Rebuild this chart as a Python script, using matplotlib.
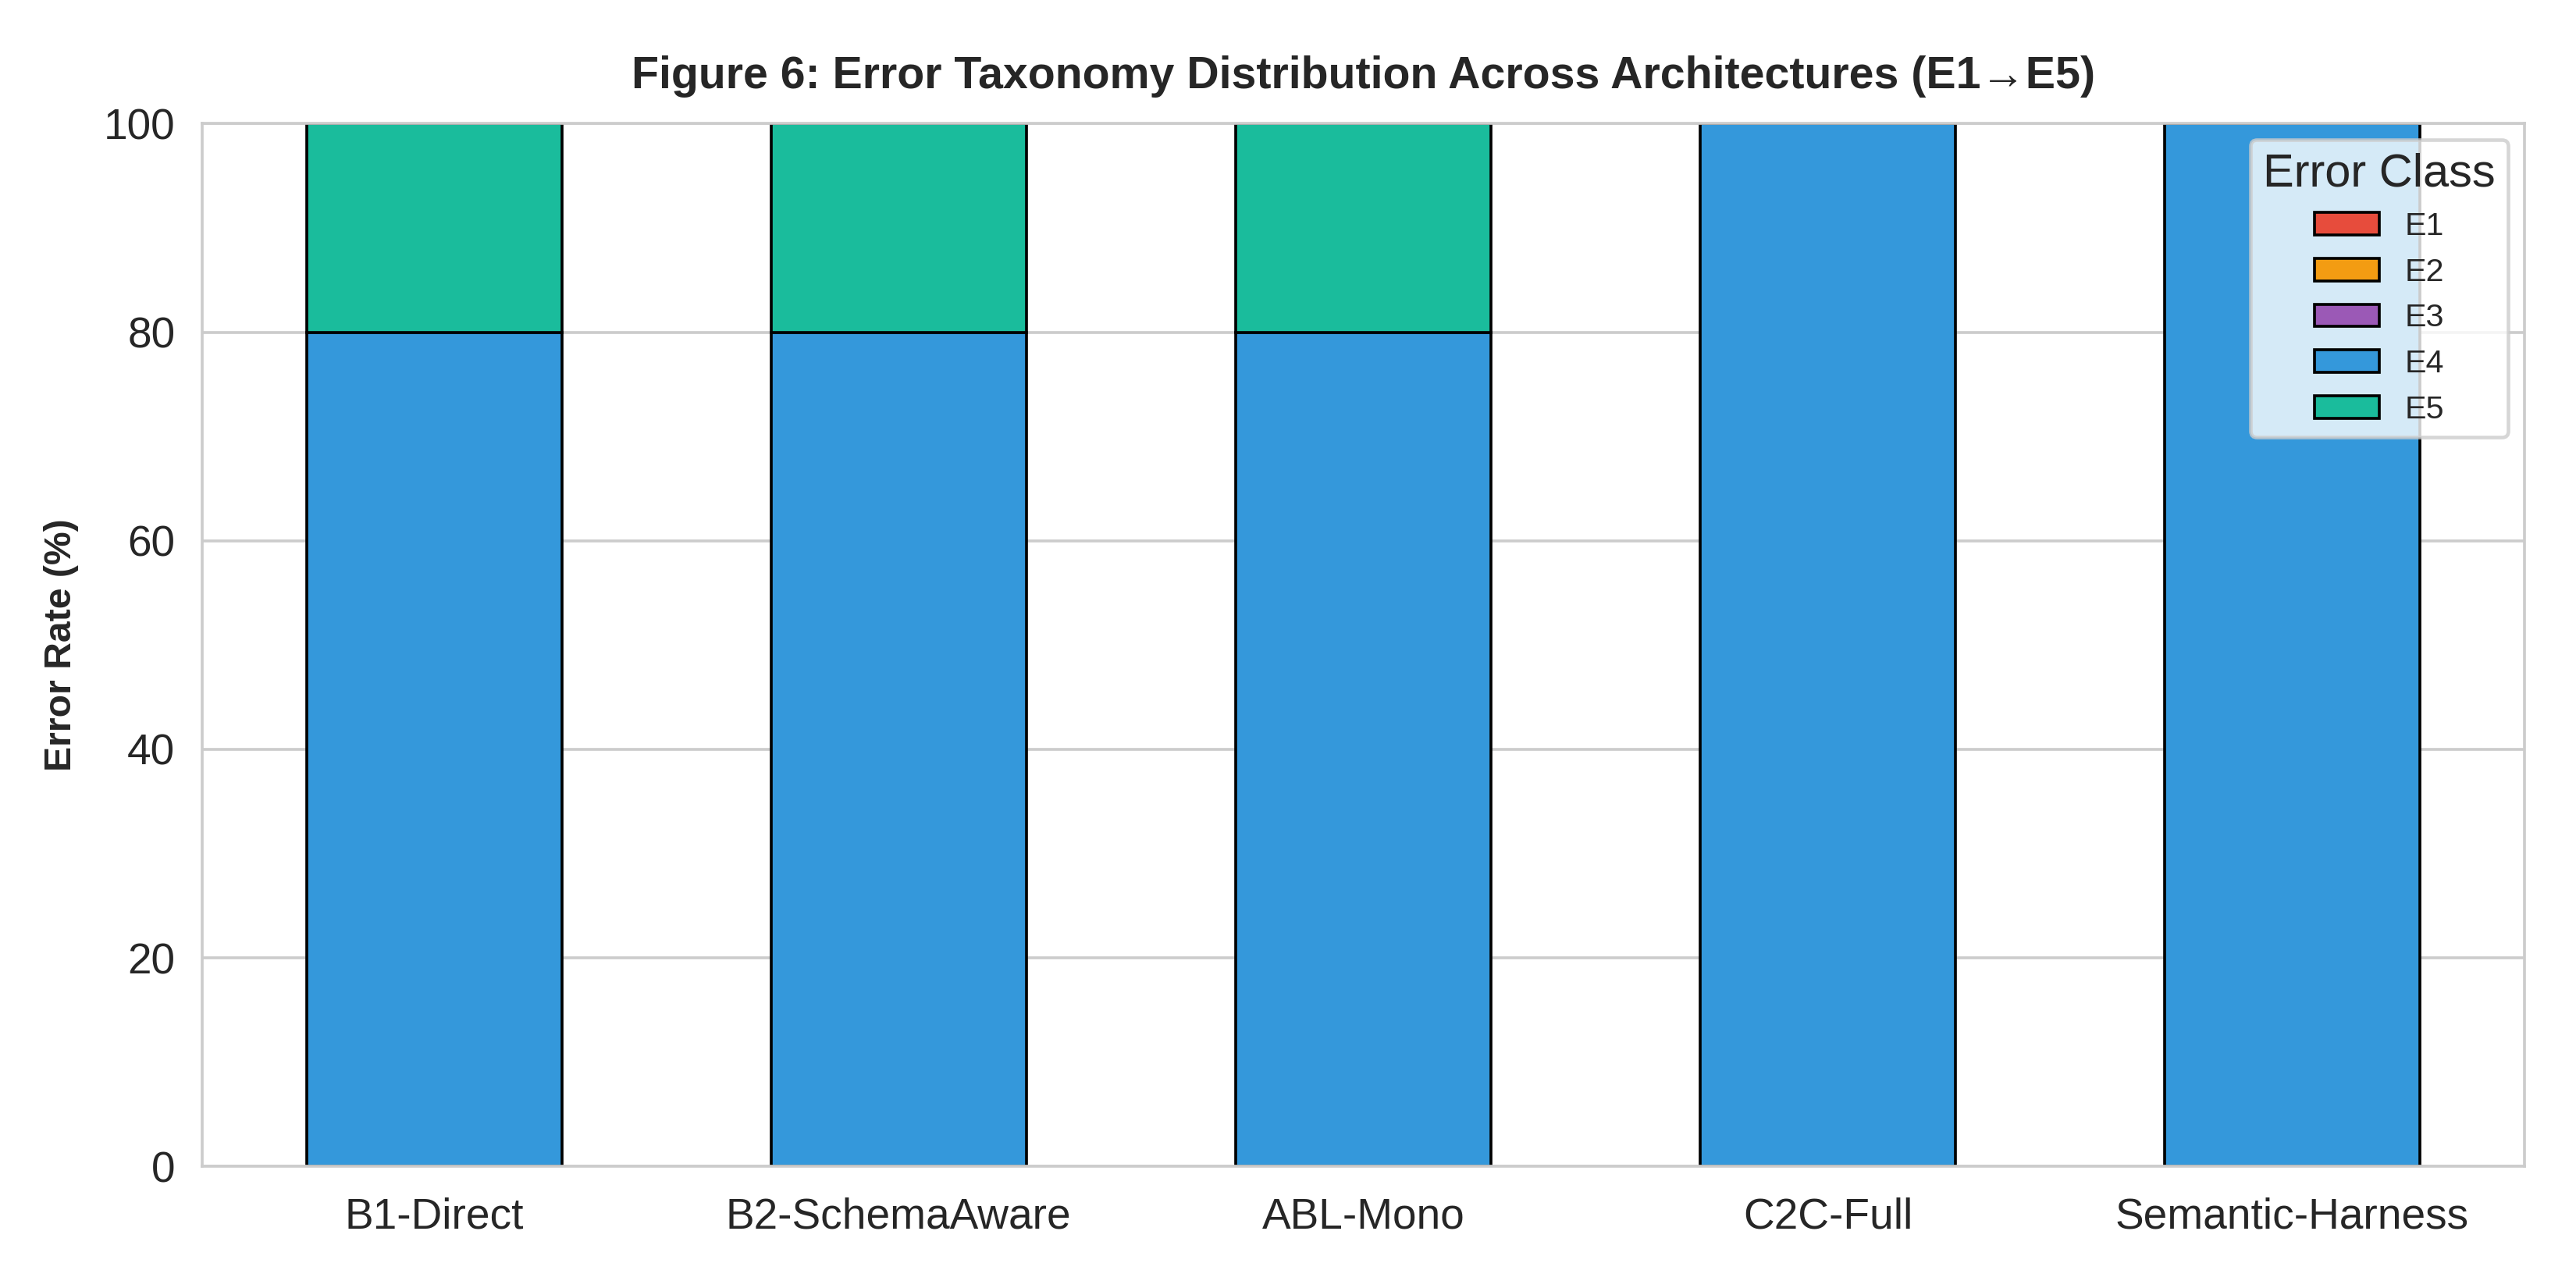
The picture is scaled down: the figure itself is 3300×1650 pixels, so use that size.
import numpy as np
import matplotlib
matplotlib.use("Agg")
import matplotlib.pyplot as plt
import seaborn as sns

sns.set_style("whitegrid")
plt.rcParams['font.family'] = ['Liberation Sans', 'DejaVu Sans']

# Données
architectures = ["B1-Direct", "B2-SchemaAware", "ABL-Mono", "C2C-Full", "Semantic-Harness"]
classes = ["E1", "E2", "E3", "E4", "E5"]
e1 = [0, 0, 0, 0, 0]
e2 = [0, 0, 0, 0, 0]
e3 = [0, 0, 0, 0, 0]
e4 = [80, 80, 80, 100, 100]
e5 = [20, 20, 20, 0, 0]
colors = ["#e74c3c", "#f39c12", "#9b59b6", "#3498db", "#1abc9c"]

fig, ax = plt.subplots(figsize=(10, 5), dpi=330)
x = np.arange(len(architectures))
bottom = np.zeros(len(architectures))
for name, vals, c in zip(classes, [e1, e2, e3, e4, e5], colors):
    ax.bar(x, vals, 0.55, bottom=bottom, color=c, edgecolor="black",
           linewidth=0.8, label=name)
    bottom += np.array(vals)

ax.set_xticks(x)
ax.set_xticklabels(architectures, fontsize=12)
ax.tick_params(axis='y', labelsize=12, pad=4)
ax.tick_params(axis='x', pad=5)
ax.set_xlim(-0.5, 4.5)
ax.set_ylim(0, 100)
ax.set_ylabel("Error Rate (%)", fontsize=10.5, fontweight="bold", labelpad=7)
ax.set_title("Figure 6: Error Taxonomy Distribution Across Architectures (E1\u2192E5)",
             fontsize=12.5, fontweight="bold", pad=10)
ax.grid(axis='x', visible=False)
ax.legend(title="Error Class", loc="upper right", fontsize=9, title_fontsize=13)

plt.subplots_adjust(left=0.0784, right=0.980, top=0.904, bottom=0.0944)
plt.savefig("out.png", dpi=330)
